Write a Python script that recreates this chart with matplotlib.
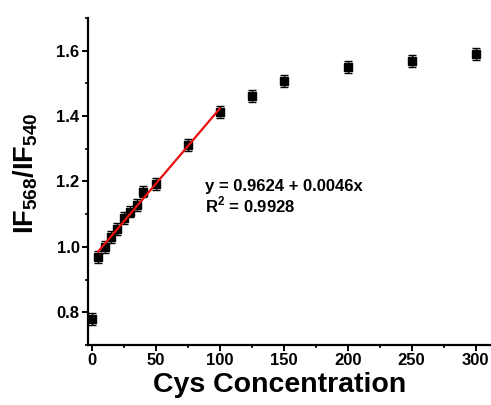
import matplotlib
matplotlib.use("Agg")
import matplotlib.pyplot as plt
import numpy as np
from matplotlib.ticker import MultipleLocator

plt.rcParams['font.family'] = ['Liberation Sans', 'DejaVu Sans']
plt.rcParams['font.weight'] = 'bold'
plt.rcParams['mathtext.fontset'] = 'custom'
plt.rcParams['mathtext.rm'] = 'Liberation Sans'
plt.rcParams['mathtext.bf'] = 'Liberation Sans:bold'

# Cys concentration and fluorescence intensity ratio
conc = [0, 5, 10, 15, 20, 25, 30, 35, 40, 50, 75, 100, 125, 150, 200, 250, 300]
ratio = [0.779, 0.970, 1.000, 1.030, 1.054, 1.088, 1.108, 1.128, 1.169, 1.192,
         1.312, 1.412, 1.460, 1.508, 1.549, 1.567, 1.589]
err = [0.018] * len(conc)

# linear fit over the 5-100 range
intercept = 0.9624
slope = 0.0046
r2 = 0.9928
fit_x = [5, 100]

fig = plt.figure(figsize=(4.91, 4.05), dpi=100)
ax = fig.add_axes([0.179, 0.148, 0.821, 0.808])

ax.errorbar(conc, ratio, yerr=err, fmt='s', color='black', ms=6,
            ecolor='black', elinewidth=1.0, capsize=3, capthick=1.0, zorder=3)
fx = np.array(fit_x, dtype=float)
ax.plot(fx, intercept + slope * fx, color='#e8110f', lw=1.6, zorder=4)

ax.text(0.29, 0.507, f"y = {intercept} + {slope}x\nR$^\\mathbf{{2}}$ = {r2}",
        transform=ax.transAxes, fontsize=12, fontweight='bold',
        linespacing=1.05, va='top', ha='left')

ax.set_xlim(-3, 312)
ax.set_ylim(0.7, 1.7)
ax.xaxis.set_major_locator(MultipleLocator(50))
ax.xaxis.set_minor_locator(MultipleLocator(25))
ax.yaxis.set_major_locator(MultipleLocator(0.2))
ax.yaxis.set_minor_locator(MultipleLocator(0.1))

for s in ['top', 'right']:
    ax.spines[s].set_visible(False)
for s in ['left', 'bottom']:
    ax.spines[s].set_linewidth(1.6)

ax.tick_params(which='major', direction='out', length=4, width=1.4,
               labelsize=12, pad=2)
ax.tick_params(which='minor', direction='out', length=2.5, width=1.2)
for lbl in ax.get_xticklabels() + ax.get_yticklabels():
    lbl.set_fontweight('bold')

ax.set_xlabel('Cys Concentration', fontsize=20.5, fontweight='bold')
ax.xaxis.set_label_coords(0.476, -0.082)
ax.set_ylabel(r'$\mathbf{IF_{568}/IF_{540}}$', fontsize=19.5, fontweight='bold')
ax.yaxis.set_label_coords(-0.12, 0.525)

fig.savefig('out.png', dpi=100)
